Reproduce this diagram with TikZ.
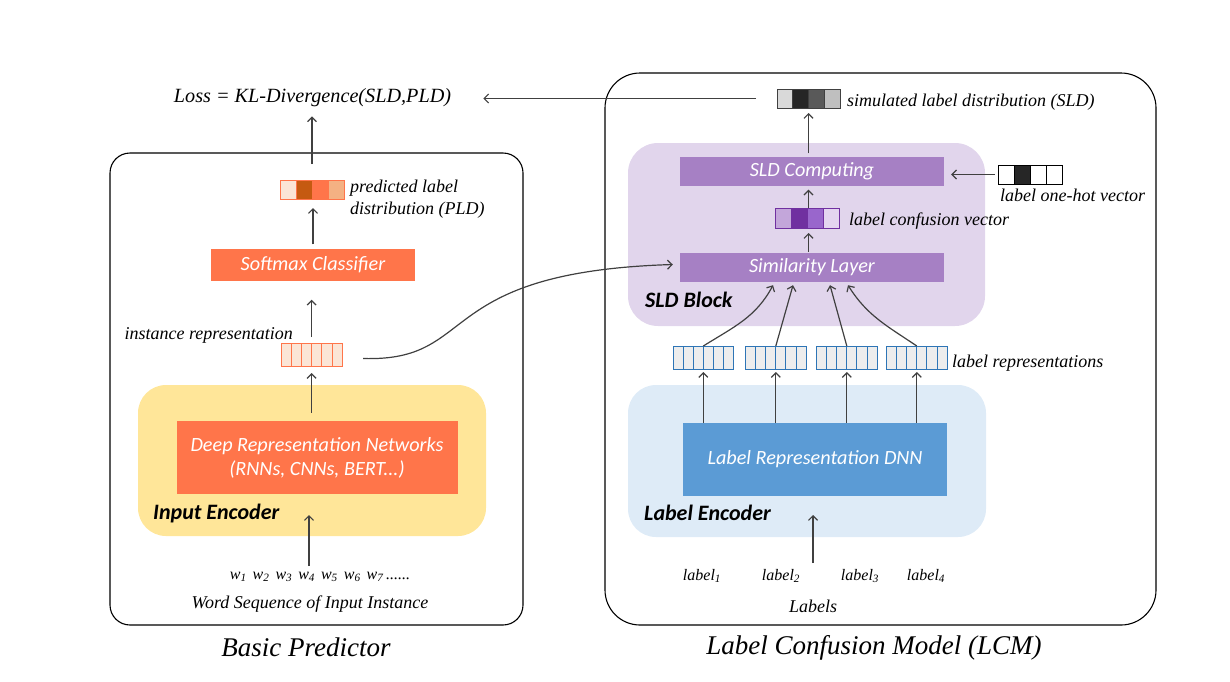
\documentclass[tikz,border=0pt]{standalone}
\usepackage{fontspec}
\setmainfont{Liberation Serif}
\newfontfamily\cali{Carlito}
\usetikzlibrary{arrows.meta,calc}
\definecolor{coral}{RGB}{255,117,74}
\definecolor{pldlight}{RGB}{251,229,214}
\definecolor{plddark}{RGB}{197,90,17}
\definecolor{pldmid}{RGB}{244,177,131}
\definecolor{ygold}{RGB}{255,230,153}
\definecolor{lav}{RGB}{225,213,236}
\definecolor{purp}{RGB}{166,128,196}
\definecolor{cdeep}{RGB}{112,48,160}
\definecolor{cone}{RGB}{195,166,218}
\definecolor{cthree}{RGB}{153,102,204}
\definecolor{cfour}{RGB}{228,213,240}
\definecolor{lblue}{RGB}{222,235,247}
\definecolor{dblue}{RGB}{91,155,213}
\definecolor{rblue}{RGB}{46,117,182}
\definecolor{rgray}{RGB}{237,237,237}
\definecolor{agray}{RGB}{64,64,64}
\definecolor{gone}{RGB}{217,217,217}
\definecolor{gtwo}{RGB}{38,38,38}
\definecolor{gthree}{RGB}{89,89,89}
\definecolor{gfour}{RGB}{191,191,191}
% name, left x, top y, n cells, cell width, height, border, fills
\newcommand\cellvec[8]{%
  \foreach \cc [count=\ii from 0] in {#8} {
    \filldraw[fill=\cc, draw=#7, line width=1pt] ({#2+\ii*#5},#3) rectangle ++(#5,#6);
  }
  \pgfmathsetmacro\vecw{#4*#5}%
  \node[inner sep=0pt, outer sep=0pt, minimum width=\vecw pt, minimum height=#6pt, anchor=north west] (#1) at (#2,#3) {};
}
\begin{document}
\begin{tikzpicture}[x=1pt,y=-1pt,
  arr/.style={draw=agray, line width=1.2pt, -{Straight Barb[length=4.5pt,width=9pt]}},
  lbl/.style={inner sep=0pt, font=\fontsize{18}{21.7}\selectfont\itshape},
  sml/.style={inner sep=0pt, font=\fontsize{16}{18}\selectfont\itshape},
  blk/.style={inner sep=0pt, text=white, font=\cali\itshape\fontsize{20.2}{24}\selectfont},
  grp/.style={inner sep=0pt, font=\cali\bfseries\itshape\fontsize{22}{24}\selectfont},
  captxt/.style={inner sep=0pt, font=\fontsize{27}{30}\selectfont\itshape},
  bigbox/.style={draw=black, line width=1.1pt, inner sep=0pt},
  bgbox/.style={inner sep=0pt}]
\useasboundingbox (0,0) rectangle (1230,681);

% outer frames
\node[bigbox, rounded corners=20pt, minimum width=413pt, minimum height=472pt] (bp) at (316.5,389) {};
\node[bigbox, rounded corners=35pt, minimum width=551pt, minimum height=552pt] (lcm) at (880.5,349) {};

% background groups
\node[bgbox, fill=ygold, rounded corners=28pt, minimum width=348pt, minimum height=151pt] (ienc) at (312,460.5) {};
\node[bgbox, fill=lav, rounded corners=30pt, minimum width=357pt, minimum height=183pt] (sldb) at (806.5,234.5) {};
\node[bgbox, fill=lblue, rounded corners=28pt, minimum width=358pt, minimum height=152pt] (lenc) at (807,461) {};

% captions
\node[captxt] (capbp) at (306,647) {Basic Predictor};
\node[captxt] (caplcm) at (874,648) {Label Confusion Model (LCM)};

% loss
\node[inner sep=0pt, font=\fontsize{20.2}{24}\selectfont\itshape] (loss) at (312.5,98) {Loss = KL-Divergence(SLD,PLD)};

% left column
\cellvec{pld}{280}{180}{4}{16}{19}{coral}{pldlight,plddark,coral,pldmid}
\node[lbl, anchor=west, align=left] (pldt) at (350,199) {predicted label\\distribution (PLD)};
\node[blk, fill=coral, minimum width=204pt, minimum height=32pt] (soft) at (313,264.5) {Softmax Classifier};
\cellvec{irep}{281}{343}{6}{10.2}{23}{coral}{pldlight,pldlight,pldlight,pldlight,pldlight,pldlight}
\node[lbl, anchor=east] (irept) at (293,335) {instance representation};
\node[blk, fill=coral, minimum width=281pt, minimum height=73pt, align=center] (deep) at (317,457.5) {Deep Representation Networks\\(RNNs, CNNs, BERT...)};
\node[grp, anchor=west] (ient) at (153,513) {Input Encoder};
\node[sml] (words) at (320,577)
  {w\textsubscript{1}\hspace{6pt}w\textsubscript{2}\hspace{6pt}w\textsubscript{3}\hspace{6pt}w\textsubscript{4}\hspace{6pt}w\textsubscript{5}\hspace{6pt}w\textsubscript{6}\hspace{6pt}w\textsubscript{7}\,......};
\node[lbl] (wseq) at (310,604) {Word Sequence of Input Instance};
\coordinate (wfrom) at (309,566);
\coordinate (wto) at (309,515);

% right column
\cellvec{sld}{777}{89}{4}{15.75}{19}{agray}{gone,gtwo,gthree,gfour}
\node[lbl, anchor=west] (sldt) at (847,102) {simulated label distribution (SLD)};
\node[blk, fill=purp, minimum width=264pt, minimum height=29pt] (sldc) at (812,171) {SLD Computing};
\cellvec{oneh}{998}{165}{4}{16}{19}{black}{white,gtwo,white,white}
\node[lbl, anchor=west] (oneht) at (1000,195) {label one-hot vector};
\cellvec{conf}{775}{208.5}{4}{16}{19.5}{cdeep}{cone,cdeep,cthree,cfour}
\node[lbl, anchor=west] (conft) at (849,221) {label confusion vector};
\node[blk, fill=purp, minimum width=264pt, minimum height=29pt] (sim) at (812,267.5) {Similarity Layer};
\node[grp, anchor=west] (sldbt) at (645,300) {SLD Block};
\cellvec{lra}{673}{346}{6}{10.1}{23}{rblue}{rgray,rgray,rgray,rgray,rgray,rgray}
\cellvec{lrb}{745.5}{346}{6}{10.1}{23}{rblue}{rgray,rgray,rgray,rgray,rgray,rgray}
\cellvec{lrc}{816.5}{346}{6}{10.1}{23}{rblue}{rgray,rgray,rgray,rgray,rgray,rgray}
\cellvec{lrd}{886.5}{346}{6}{10.1}{23}{rblue}{rgray,rgray,rgray,rgray,rgray,rgray}
\node[lbl, anchor=west] (lrt) at (952,363) {label representations};
\node[blk, fill=dblue, minimum width=264pt, minimum height=73pt] (dnn) at (815,459.5) {Label Representation DNN};
\node[grp, anchor=west] (lenct) at (644,513) {Label Encoder};
\node[sml] (la) at (702,576) {label\textsubscript{1}};
\node[sml] (lb) at (781,576) {label\textsubscript{2}};
\node[sml] (lc) at (860,576) {label\textsubscript{3}};
\node[sml] (ld) at (926,576) {label\textsubscript{4}};
\node[lbl] (labs) at (813,606) {Labels};
\coordinate (lfrom) at (813,563);
\coordinate (lto) at (813,515);

% connectors left
\draw[arr, shorten <=16pt, shorten >=9pt] (pld.north) -- (loss.south -| pld.north);
\draw[arr, shorten <=4pt, shorten >=9pt] (soft.north) -- (soft.north |- pld.south);
\draw[arr, shorten <=6pt, shorten >=19pt] (irep.north) -- (irep.north |- soft.south);
\draw[arr, shorten <=8pt, shorten >=7pt] (deep.north -| irep.south) -- (irep.south);
\draw[arr] (wfrom) -- (wto);
\draw[arr] ($(irep.east)+(21,4)$) .. controls (480,362) and (430,272) .. ($(sim.west)+(-7,-3)$);

% connectors right
\draw[arr, shorten <=21pt, shorten >=32pt] (sld.west) -- (loss.east |- sld.west);
\draw[arr, shorten <=3pt, shorten >=5pt] (sldc.north -| sld.south) -- (sld.south);
\draw[arr, shorten <=3pt, shorten >=7pt] (oneh.west) -- (sldc.east |- oneh.west);
\draw[arr, shorten <=1pt, shorten >=4pt] (conf.north -| sld.south) -- (sldc.south -| sld.south);
\draw[arr, shorten <=1pt, shorten >=5pt] (sim.north -| sld.south) -- (conf.south -| sld.south);
\draw[arr] (lra.north) to[out=32, in=-118] ($(sim.south)+(-39,3)$);
\draw[arr] (lrb.north) -- ($(sim.south)+(-19,3)$);
\draw[arr] (lrc.north) -- ($(sim.south)+(18,3)$);
\draw[arr] (lrd.north) to[out=146, in=-58] ($(sim.south)+(36,3)$);
\draw[arr, shorten >=3pt] (dnn.north -| lra.south) -- (lra.south);
\draw[arr, shorten >=3pt] (dnn.north -| lrb.south) -- (lrb.south);
\draw[arr, shorten >=3pt] (dnn.north -| lrc.south) -- (lrc.south);
\draw[arr, shorten >=3pt] (dnn.north -| lrd.south) -- (lrd.south);
\draw[arr] (lfrom) -- (lto);
\end{tikzpicture}
\end{document}
